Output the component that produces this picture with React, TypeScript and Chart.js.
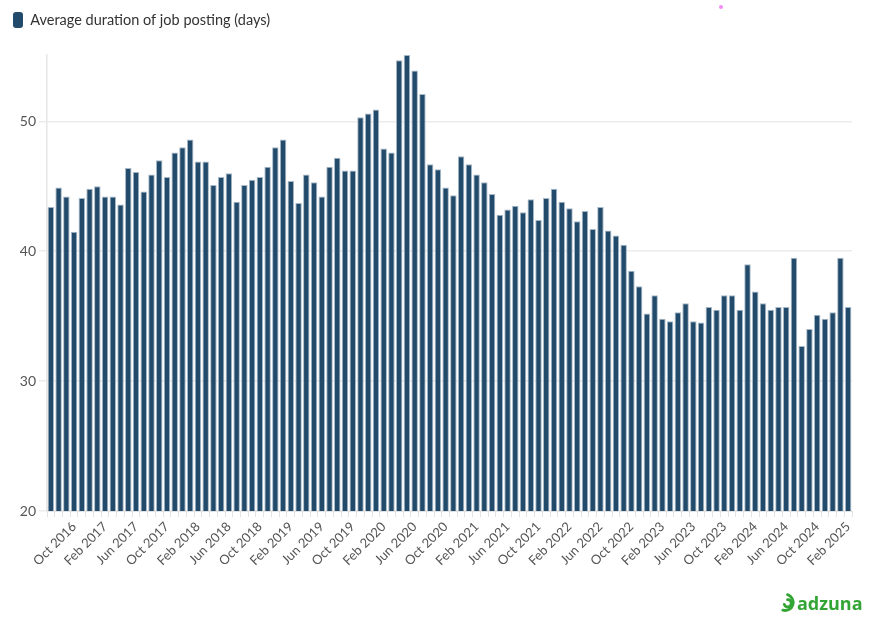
import React, { useEffect, useRef } from 'react';
import { Chart, registerables } from 'chart.js';

Chart.register(...registerables);

const categories: string[] = [
  'Jul 2016', 'Aug 2016', 'Sep 2016', 'Oct 2016', 'Nov 2016', 'Dec 2016',
  'Jan 2017', 'Feb 2017', 'Mar 2017', 'Apr 2017', 'May 2017', 'Jun 2017', 'Jul 2017', 'Aug 2017', 'Sep 2017', 'Oct 2017', 'Nov 2017', 'Dec 2017',
  'Jan 2018', 'Feb 2018', 'Mar 2018', 'Apr 2018', 'May 2018', 'Jun 2018', 'Jul 2018', 'Aug 2018', 'Sep 2018', 'Oct 2018', 'Nov 2018', 'Dec 2018',
  'Jan 2019', 'Feb 2019', 'Mar 2019', 'Apr 2019', 'May 2019', 'Jun 2019', 'Jul 2019', 'Aug 2019', 'Sep 2019', 'Oct 2019', 'Nov 2019', 'Dec 2019',
  'Jan 2020', 'Feb 2020', 'Mar 2020', 'Apr 2020', 'May 2020', 'Jun 2020', 'Jul 2020', 'Aug 2020', 'Sep 2020', 'Oct 2020', 'Nov 2020', 'Dec 2020',
  'Jan 2021', 'Feb 2021', 'Mar 2021', 'Apr 2021', 'May 2021', 'Jun 2021', 'Jul 2021', 'Aug 2021', 'Sep 2021', 'Oct 2021', 'Nov 2021', 'Dec 2021',
  'Jan 2022', 'Feb 2022', 'Mar 2022', 'Apr 2022', 'May 2022', 'Jun 2022', 'Jul 2022', 'Aug 2022', 'Sep 2022', 'Oct 2022', 'Nov 2022', 'Dec 2022',
  'Jan 2023', 'Feb 2023', 'Mar 2023', 'Apr 2023', 'May 2023', 'Jun 2023', 'Jul 2023', 'Aug 2023', 'Sep 2023', 'Oct 2023', 'Nov 2023', 'Dec 2023',
  'Jan 2024', 'Feb 2024', 'Mar 2024', 'Apr 2024', 'May 2024', 'Jun 2024', 'Jul 2024', 'Aug 2024', 'Sep 2024', 'Oct 2024', 'Nov 2024', 'Dec 2024',
  'Jan 2025', 'Feb 2025',
];

const avgDuration: number[] = [
  43.4, 44.9, 44.2, 41.5, 44.1, 44.8,
  45.0, 44.2, 44.2, 43.6, 46.4, 46.1, 44.6, 45.9, 47.0, 45.7, 47.6, 48.0,
  48.6, 46.9, 46.9, 45.1, 45.7, 46.0, 43.8, 45.1, 45.5, 45.7, 46.5, 48.0,
  48.6, 45.4, 43.7, 45.9, 45.3, 44.2, 46.5, 47.2, 46.2, 46.2, 50.3, 50.6,
  50.9, 47.9, 47.6, 54.7, 55.1, 53.9, 52.1, 46.7, 46.3, 44.9, 44.3, 47.3,
  46.7, 45.9, 45.3, 44.4, 42.8, 43.2, 43.5, 43.0, 44.0, 42.4, 44.1, 44.8,
  43.8, 43.3, 42.3, 43.1, 41.7, 43.4, 41.6, 41.2, 40.5, 38.5, 37.3, 35.2,
  36.6, 34.8, 34.6, 35.3, 36.0, 34.6, 34.5, 35.7, 35.5, 36.6, 36.6, 35.5,
  39.0, 36.9, 36.0, 35.5, 35.7, 35.7, 39.5, 32.7, 34.0, 35.1, 34.8, 35.3,
  39.5, 35.7,
];

const xTickLabels: string[] = [
  'Oct 2016', 'Feb 2017', 'Jun 2017', 'Oct 2017', 'Feb 2018', 'Jun 2018', 'Oct 2018',
  'Feb 2019', 'Jun 2019', 'Oct 2019', 'Feb 2020', 'Jun 2020', 'Oct 2020', 'Feb 2021',
  'Jun 2021', 'Oct 2021', 'Feb 2022', 'Jun 2022', 'Oct 2022', 'Feb 2023', 'Jun 2023',
  'Oct 2023', 'Feb 2024', 'Jun 2024', 'Oct 2024', 'Feb 2025',
];

const yTickValues: number[] = [20, 30, 40, 50];

const seriesName = 'Average duration of job posting (days)';

export default function App() {
  const canvasRef = useRef<HTMLCanvasElement | null>(null);

  useEffect(() => {
    document.body.style.margin = '0';
    const canvas = canvasRef.current;
    if (!canvas) return;
    const font = "Lato, 'Open Sans', sans-serif";
    const legendGap = {
      id: 'legendGap',
      beforeInit(chart: any) {
        const legend = chart.legend;
        if (!legend) return;
        const origFit = legend.fit;
        legend.fit = function () {
          origFit.call(this);
          this.height += 17;
        };
      },
    };
    const chart = new Chart(canvas, {
      type: 'bar',
      data: {
        labels: categories,
        datasets: [
          {
            label: seriesName,
            data: avgDuration,
            backgroundColor: '#224a6a',
            borderColor: '#a7b9c8',
            borderWidth: 1,
            borderSkipped: 'bottom',
            barPercentage: 0.84,
            categoryPercentage: 1,
          },
        ],
      },
      plugins: [legendGap],
      options: {
        animation: false,
        responsive: false,
        maintainAspectRatio: false,
        devicePixelRatio: 1,
        layout: { padding: { left: 3, right: 22, top: 2, bottom: 0 } },
        plugins: {
          tooltip: { enabled: false },
          legend: {
            display: true,
            position: 'top',
            align: 'start',
            labels: {
              boxWidth: 10,
              boxHeight: 16,
              useBorderRadius: true,
              borderRadius: 3,
              color: '#333333',
              font: { family: font, size: 14.5 },
              padding: 10,
              generateLabels: () => [
                {
                  text: seriesName,
                  fillStyle: '#224a6a',
                  strokeStyle: '#224a6a',
                  lineWidth: 0,
                  hidden: false,
                  datasetIndex: 0,
                  borderRadius: 3,
                  fontColor: '#333333',
                } as any,
              ],
            },
          },
        },
        scales: {
          x: {
            type: 'category',
            grid: {
              display: true,
              drawOnChartArea: false,
              drawTicks: true,
              tickLength: 6,
              color: '#e3e3e3',
              offset: true,
            },
            border: { display: true, color: '#e3e3e3', width: 1 },
            ticks: {
              autoSkip: false,
              minRotation: 45,
              maxRotation: 45,
              padding: 2,
              color: '#555555',
              font: { family: font, size: 13 },
              callback: (_v: any, idx: number) =>
                xTickLabels.includes(categories[idx]) ? categories[idx] : '',
            },
            afterFit: (scale: any) => {
              scale.height = 115;
            },
          },
          y: {
            type: 'linear',
            min: 20,
            max: 55.1,
            grid: {
              color: '#ececec',
              lineWidth: 1.5,
              tickLength: 8,
              drawTicks: true,
            },
            border: { display: true, color: '#e6e6e6', width: 1.5 },
            ticks: {
              color: '#555555',
              padding: 3,
              font: { family: font, size: 14 },
            },
            afterBuildTicks: (scale: any) => {
              scale.ticks = yTickValues.map((v) => ({ value: v }));
            },
            afterFit: (scale: any) => {
              scale.width = 44;
            },
          },
        },
      },
    });
    return () => {
      chart.destroy();
    };
  }, []);

  return (
    <div style={{ position: 'relative', width: 874, height: 626, background: '#ffffff', overflow: 'hidden' }}>
      <canvas ref={canvasRef} width={874} height={626} style={{ display: 'block', width: 874, height: 626 }} />
      <div
        style={{
          position: 'absolute',
          left: 719,
          top: 5,
          width: 4,
          height: 4,
          borderRadius: '50%',
          background: '#f58cf5',
        }}
      />
      <div
        style={{
          position: 'absolute',
          left: 779,
          top: 590,
          display: 'flex',
          alignItems: 'center',
          color: '#33a534',
          fontFamily: "'Open Sans', Lato, sans-serif",
          fontWeight: 700,
          fontSize: 18,
          lineHeight: '26px',
        }}
      >
        <svg width="17" height="22" viewBox="0 0 18 22" style={{ marginRight: 1 }}>
          <path
            d="M9 2.2 A 8 8 0 1 1 4 18.5"
            fill="none"
            stroke="#33a534"
            strokeWidth="3"
            strokeLinecap="round"
          />
          <path
            d="M9 7.5 A 3.8 3.8 0 1 1 5.6 12.5"
            fill="none"
            stroke="#33a534"
            strokeWidth="3"
            strokeLinecap="round"
          />
        </svg>
        <span>adzuna</span>
      </div>
    </div>
  );
}
